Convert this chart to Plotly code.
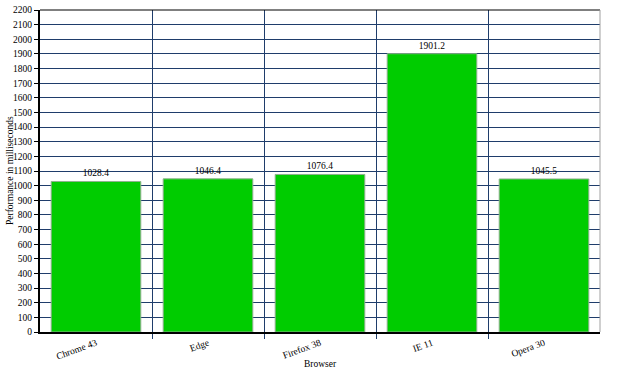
import plotly.graph_objects as go

browsers = ["Chrome 43", "Edge", "Firefox 38", "IE 11", "Opera 30"]
times_ms = [1028.4, 1046.4, 1076.4, 1901.2, 1045.5]
y_ticks = list(range(0, 2201, 100))

positions = list(range(len(browsers)))
boundaries = [p + 0.5 for p in positions[:-1]]

font_family = "Liberation Serif, Times New Roman, serif"
fs = 9.5
grid_color = "#1f3d6b"

fig = go.Figure(
    go.Bar(
        x=positions,
        y=times_ms,
        width=0.8,
        marker=dict(color="#00cc00", line=dict(color="#8fb08f", width=1)),
        text=[f"{v:.1f}" for v in times_ms],
        textposition="outside",
        textfont=dict(family=font_family, size=fs, color="#000000"),
        cliponaxis=False,
        hoverinfo="x+y",
    )
)

fig.update_layout(
    width=620,
    height=369,
    margin=dict(l=40, r=20, t=10, b=37),
    paper_bgcolor="white",
    plot_bgcolor="white",
    font=dict(family=font_family, size=fs, color="#000000"),
    showlegend=False,
    xaxis=dict(
        range=[-0.5, len(browsers) - 0.5],
        automargin=False,
        tickmode="array",
        tickvals=positions,
        ticktext=browsers,
        tickangle=-20,
        ticks="",
        showgrid=False,
        zeroline=False,
        showline=True,
        linecolor="#000000",
        linewidth=2,
        mirror=False,
        tickfont=dict(family=font_family, size=fs),
        title=dict(text="Browser", font=dict(family=font_family, size=fs)),
        minor=dict(
            tickmode="array",
            tickvals=boundaries,
            showgrid=True,
            gridcolor=grid_color,
            gridwidth=1,
            ticks="outside",
            ticklen=5,
            tickcolor=grid_color,
            tickwidth=1,
        ),
    ),
    yaxis=dict(
        range=[0, 2200],
        automargin=False,
        tickmode="array",
        tickvals=y_ticks,
        ticktext=[str(v) for v in y_ticks],
        ticks="outside",
        ticklen=4,
        tickcolor="#000000",
        showgrid=True,
        gridcolor=grid_color,
        gridwidth=1,
        zeroline=False,
        showline=True,
        linecolor="#000000",
        linewidth=2,
        tickfont=dict(family=font_family, size=fs),
    ),
    annotations=[
        dict(text="Performance in milliseconds", xref="paper", yref="paper",
             x=0, y=0.5, xanchor="center", yanchor="middle", xshift=-30,
             textangle=-90, showarrow=False,
             font=dict(family=font_family, size=fs, color="#000000")),
    ],
    shapes=[
        dict(type="line", xref="paper", yref="paper", x0=0, x1=1, y0=1, y1=1,
             line=dict(color="#000000", width=1)),
        dict(type="line", xref="paper", yref="paper", x0=1, x1=1, y0=0, y1=1,
             line=dict(color="#a0a0a0", width=1)),
    ],
)

fig.write_html("out.html")
